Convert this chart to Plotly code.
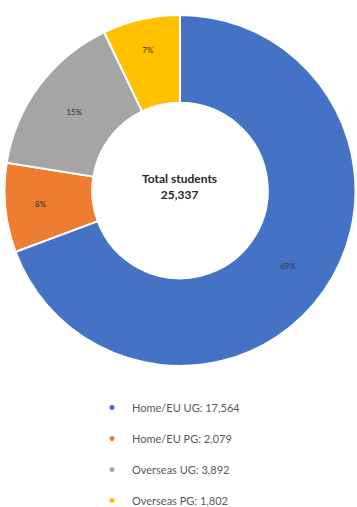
import plotly.graph_objects as go

labels = ["Home/EU UG", "Home/EU PG", "Overseas UG", "Overseas PG"]
values = [17564, 2079, 3892, 1802]
colors = ["#4472C4", "#ED7D31", "#A5A5A5", "#FFC000"]
total_label = "Total students"

W, H = 357, 507
total = sum(values)

fig = go.Figure()
fig.add_trace(go.Pie(
    labels=labels, values=values, sort=False, direction="clockwise", rotation=0,
    hole=0.5,
    marker=dict(colors=colors, line=dict(color="white", width=2)),
    texttemplate="%{percent:.0%}", textposition="inside",
    insidetextorientation="horizontal",
    textfont=dict(size=8, color="#333333", family="Lato"),
    domain=dict(x=[4/W, 356/W], y=[1-366/H, 1-15/H]),
    showlegend=False, hoverinfo="label+value+percent",
))

for lab, val, col in zip(labels, values, colors):
    fig.add_trace(go.Scatter(
        x=[None], y=[None], mode="markers", name=f"{lab}: {val:,}",
        marker=dict(color=col, size=5, symbol="circle"),
        legendgroup=lab, showlegend=True,
    ))

fig.add_annotation(
    x=179/W, y=1-186/H, xref="paper", yref="paper",
    text=f"<b>{total_label}<br>{total:,}</b>", showarrow=False,
    font=dict(size=12, color="#262626", family="Lato"), align="center",
)

fig.update_layout(
    width=W, height=H, margin=dict(l=0, r=0, t=0, b=0, autoexpand=False),
    paper_bgcolor="white", plot_bgcolor="white",
    xaxis=dict(visible=False), yaxis=dict(visible=False),
    showlegend=True,
    legend=dict(
        x=92/W, xanchor="left", y=1-393/H, yanchor="top",
        orientation="v", tracegroupgap=12, itemwidth=30,
        font=dict(size=11, color="#595959", family="Lato"),
        bgcolor="rgba(0,0,0,0)",
    ),
)

fig.write_html("out.html")
